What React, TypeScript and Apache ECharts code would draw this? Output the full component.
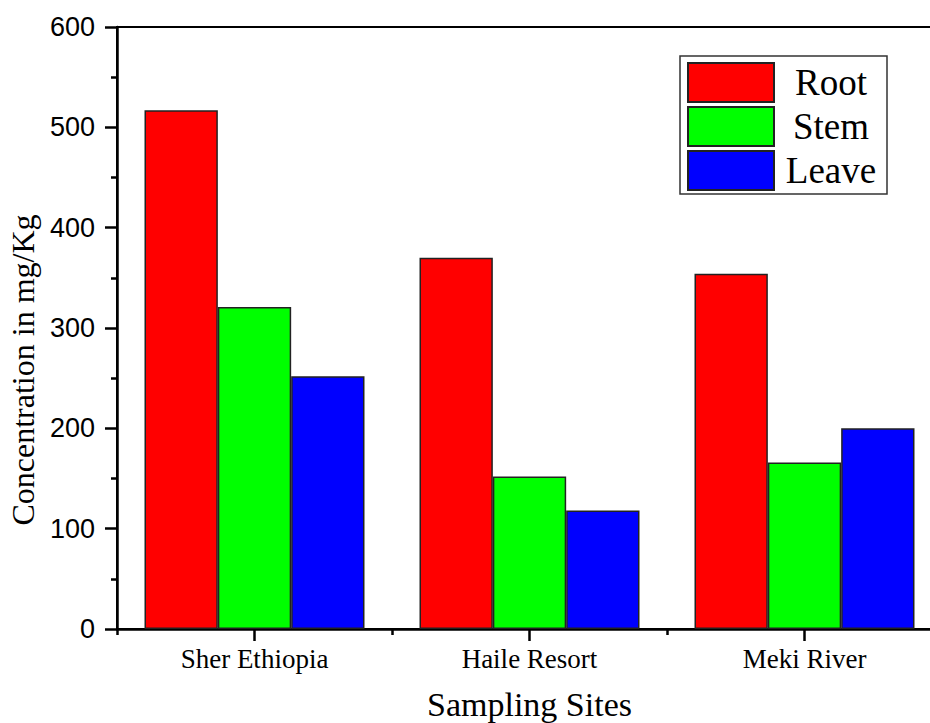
import React, { useEffect, useRef } from "react";
import * as echarts from "echarts";

const categories = ["Sher Ethiopia", "Haile Resort", "Meki River"];
const seriesNames = ["Root", "Stem", "Leave"];
const rootValues = [517, 370, 354];
const stemValues = [321, 152, 166];
const leaveValues = [252, 118, 200];
const seriesColors = ["#FF0000", "#00FF00", "#0000FF"];
const yTickMin = 0;
const yTickMax = 600;
const yTickInterval = 100;

export default function App() {
  const ref = useRef<HTMLDivElement>(null);

  useEffect(() => {
    if (!ref.current) return;
    const chart = echarts.init(ref.current, undefined, { renderer: "svg" });
    const values = [rootValues, stemValues, leaveValues];
    const serif = "'Liberation Serif', 'Times New Roman', serif";
    const sans = "'Liberation Sans', Arial, sans-serif";

    chart.setOption({
      animation: false,
      backgroundColor: "#ffffff",
      grid: {
        left: 117,
        top: 27,
        width: 825,
        height: 602,
        show: true,
        borderColor: "#000",
        borderWidth: 2,
        containLabel: false,
        outerBoundsMode: "none",
      },
      legend: {
        orient: "vertical",
        left: 680,
        top: 56,
        itemWidth: 86,
        itemHeight: 39,
        itemGap: 3,
        padding: [6, 4, 3, 7],
        borderColor: "#333",
        borderWidth: 1.5,
        backgroundColor: "#fff",
        icon: "rect",
        data: seriesNames,
        formatter: (name: string) => `{t|${name}}`,
        textStyle: {
          rich: {
            t: {
              fontFamily: serif,
              fontSize: 37,
              color: "#000",
              width: 104,
              align: "center",
              lineHeight: 39,
            },
          },
        },
      },
      xAxis: [
        {
          type: "category",
          data: categories,
          position: "bottom",
          name: "Sampling Sites",
          nameLocation: "middle",
          nameGap: 58,
          nameTextStyle: { fontFamily: serif, fontSize: 34, color: "#000" },
          axisLine: { show: true, lineStyle: { color: "#000", width: 2.5 } },
          axisTick: {
            show: true,
            alignWithLabel: true,
            length: 12,
            lineStyle: { color: "#000", width: 2.5 },
          },
          axisLabel: {
            fontFamily: serif,
            fontSize: 27,
            color: "#000",
            margin: 16,
          },
          splitLine: { show: false },
        },
        {
          type: "category",
          data: categories,
          position: "bottom",
          axisLine: { show: false },
          axisTick: {
            show: true,
            alignWithLabel: false,
            length: 6,
            lineStyle: { color: "#000", width: 2.5 },
          },
          axisLabel: { show: false },
          splitLine: { show: false },
        },
      ],
      yAxis: {
        type: "value",
        min: yTickMin,
        max: yTickMax,
        interval: yTickInterval,
        name: "Concentration in mg/Kg",
        nameLocation: "middle",
        nameGap: 77,
        nameTextStyle: {
          fontFamily: serif,
          fontSize: 32,
          color: "#000",
          padding: [0, 84, 0, 0],
        },
        axisLine: { show: true, lineStyle: { color: "#000", width: 2.5 } },
        axisTick: {
          show: true,
          inside: false,
          length: 12,
          lineStyle: { color: "#000", width: 2.5 },
        },
        minorTick: {
          show: true,
          splitNumber: 2,
          length: 6,
          lineStyle: { color: "#000", width: 2.5 },
        },
        axisLabel: {
          fontFamily: sans,
          fontSize: 27,
          color: "#000",
          margin: 22,
        },
        splitLine: { show: false },
      },
      series: seriesNames.map((name, i) => ({
        name,
        type: "bar",
        xAxisIndex: 0,
        data: values[i],
        barGap: "0%",
        barCategoryGap: "20%",
        itemStyle: {
          color: seriesColors[i],
          borderColor: "#222",
          borderWidth: 1.5,
        },
      })),
    });

    return () => chart.dispose();
  }, []);

  return (
    <div
      ref={ref}
      style={{ position: "fixed", left: 0, top: 0, width: 930, height: 723 }}
    />
  );
}
